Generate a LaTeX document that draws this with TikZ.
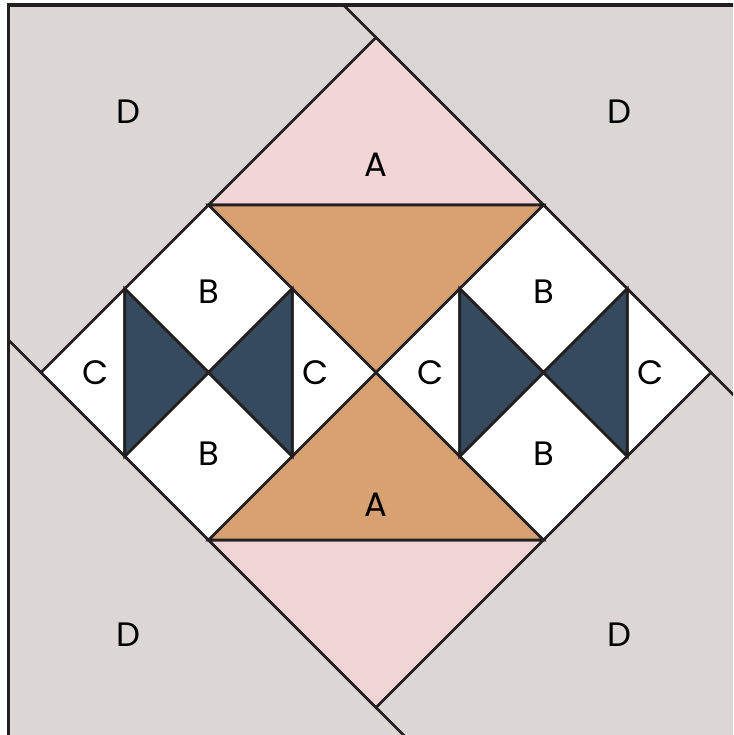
\documentclass[tikz,border=0pt]{standalone}
\usepackage{fontspec}
\setmainfont{Poppins}
\definecolor{fabricD}{HTML}{DCD6D5}
\definecolor{fabricA}{HTML}{F2D5D7}
\definecolor{tan}{HTML}{D8A171}
\definecolor{navy}{HTML}{344A5F}
\definecolor{seam}{HTML}{231F20}
\begin{document}
\begin{tikzpicture}[line width = 0.9pt, draw = seam, font = \fontsize{11.5}{12}\selectfont, line join = miter]
\useasboundingbox (-4.49,-4.328) rectangle (4.263,4.448);
\clip (-4.49,-4.328) rectangle (4.263,4.448);
\fill[fabricD] (-4.388,-4.5) rectangle (4.5,4.388);
\draw[line width = 1.1pt] (-4.388,-4.5) -- (-4.388,4.388) -- (4.5,4.388);
\draw (-4.388,0.388) -- (0.5,-4.5);
\draw (-0.388,4.388) -- (4.5,-0.5);
\filldraw[fill = fabricA] (0,4) -- (-2,2) -- (2,2) -- cycle;
\filldraw[fill = fabricA] (0,-4) -- (-2,-2) -- (2,-2) -- cycle;
\filldraw[fill = tan] (-2,2) -- (2,2) -- (0,0) -- cycle;
\filldraw[fill = tan] (-2,-2) -- (2,-2) -- (0,0) -- cycle;
\node at (-2.96,3.11) (d1) {D};
\node at (2.91,3.11) (d2) {D};
\node at (-2.96,-3.13) (d3) {D};
\node at (2.91,-3.13) (d4) {D};
\node at (0,2.48) (a1) {A};
\node at (0,-1.58) (a2) {A};
\begin{scope}
\filldraw[fill = white] (-2,2) -- (-3,1) -- (-2,0) -- (-1,1) -- cycle;
\filldraw[fill = white] (-2,-2) -- (-3,-1) -- (-2,0) -- (-1,-1) -- cycle;
\filldraw[fill = white] (-4,0) -- (-3,1) -- (-3,-1) -- cycle;
\filldraw[fill = white] (0,0) -- (-1,1) -- (-1,-1) -- cycle;
\filldraw[fill = navy] (-3,1) -- (-3,-1) -- (-2,0) -- cycle;
\filldraw[fill = navy] (-1,1) -- (-1,-1) -- (-2,0) -- cycle;
\node at (-2,0.97) (b1) {B};
\node at (-2,-0.97) (b2) {B};
\node at (-3.35,0) (c1) {C};
\node at (-0.72,0) (c2) {C};
\end{scope}
\begin{scope}[xshift = 4cm]
\filldraw[fill = white] (-2,2) -- (-3,1) -- (-2,0) -- (-1,1) -- cycle;
\filldraw[fill = white] (-2,-2) -- (-3,-1) -- (-2,0) -- (-1,-1) -- cycle;
\filldraw[fill = white] (-4,0) -- (-3,1) -- (-3,-1) -- cycle;
\filldraw[fill = white] (0,0) -- (-1,1) -- (-1,-1) -- cycle;
\filldraw[fill = navy] (-3,1) -- (-3,-1) -- (-2,0) -- cycle;
\filldraw[fill = navy] (-1,1) -- (-1,-1) -- (-2,0) -- cycle;
\node at (-2,0.97) (b3) {B};
\node at (-2,-0.97) (b4) {B};
\node at (-3.35,0) (c3) {C};
\node at (-0.72,0) (c4) {C};
\end{scope}
\end{tikzpicture}
\end{document}
